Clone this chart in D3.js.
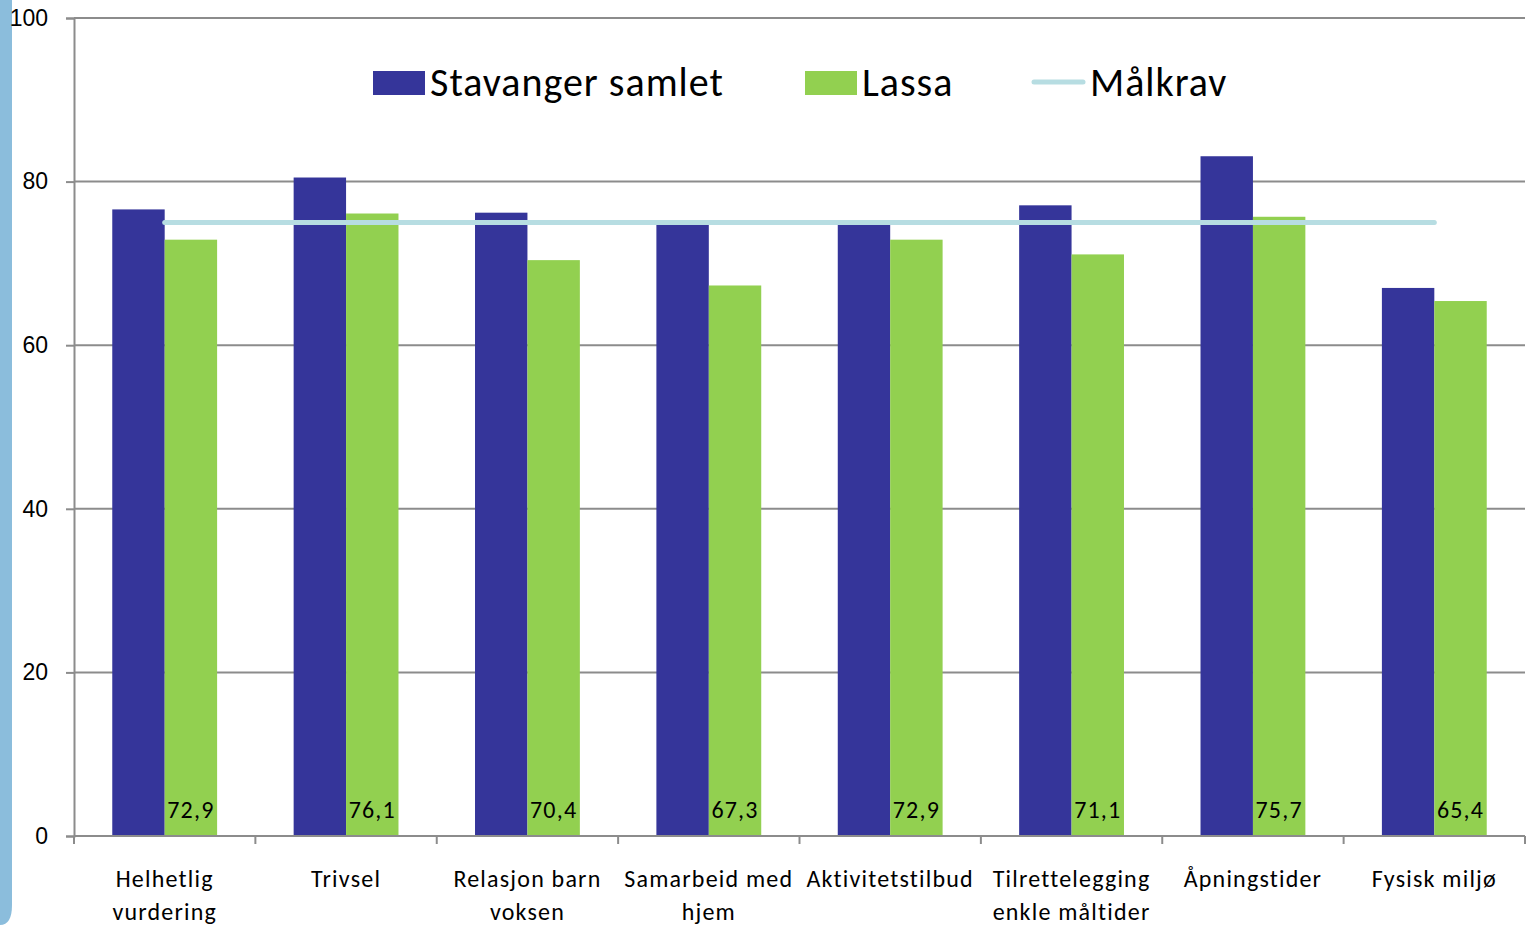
<!DOCTYPE html>
<html>
<head>
<meta charset="utf-8">
<script src="https://cdn.jsdelivr.net/npm/d3@7"></script>
<style>
  body { margin: 0; background: #fff; }
  svg { display: block; font-family: Carlito, Lato, "Open Sans", sans-serif; }
</style>
</head>
<body>
<svg id="chart" width="1529" height="925"></svg>
<script>
var categories = [
  ["Helhetlig", "vurdering"],
  ["Trivsel"],
  ["Relasjon barn", "voksen"],
  ["Samarbeid med", "hjem"],
  ["Aktivitetstilbud"],
  ["Tilrettelegging", "enkle måltider"],
  ["Åpningstider"],
  ["Fysisk miljø"]
]
var stavanger = [76.6, 80.5, 76.2, 74.7, 74.7, 77.1, 83.1, 67.0]
var lassa = [72.9, 76.1, 70.4, 67.3, 72.9, 71.1, 75.7, 65.4]
var maalkrav = [75, 75, 75, 75, 75, 75, 75, 75]
var yTicks = [0, 20, 40, 60, 80, 100]
var seriesNames = ["Stavanger samlet", "Lassa", "Målkrav"]

var colors = {
  blue: "#35359a",
  green: "#92d050",
  line: "#b7dde2",
  grid: "#8c8c8c"
}

var margin = { top: 18, bottom: 89, left: 74, right: 4 }
var width = 1529, height = 925

var svg = d3.select("#chart")

// slide decoration at the left edge
svg.append("path")
   .attr("d", "M0,0 H12 V905 Q12,925 0,925 Z")
   .attr("fill", "#8bbddc")

var idx = d3.range(categories.length)

var xScale = d3.scaleBand()
               .domain(idx)
               .range([margin.left, width - margin.right])

var inner = d3.scaleBand()
              .domain([0, 1])
              .range([0, xScale.bandwidth()])
              .paddingInner(0)
              .paddingOuter(0.73)

var yScale = d3.scaleLinear()
               .domain([0, 100])
               .range([height - margin.bottom, margin.top])

// gridlines + y axis
var yAxis = svg.append("g")
   .attr("transform", `translate(${margin.left},0)`)
   .call(d3.axisLeft(yScale).tickValues(yTicks).tickSize(8).tickPadding(18))
yAxis.select(".domain").attr("stroke", colors.grid).attr("stroke-width", 2)
yAxis.selectAll(".tick line").attr("stroke", colors.grid).attr("stroke-width", 2)
yAxis.selectAll(".tick text")
     .attr("font-size", 23).attr("fill", "#000").attr("font-family", null)

svg.append("g")
   .selectAll("line")
   .data(yTicks.filter(d => d > 0))
   .join("line")
   .attr("x1", margin.left)
   .attr("x2", width - margin.right)
   .attr("y1", d => yScale(d))
   .attr("y2", d => yScale(d))
   .attr("stroke", colors.grid)
   .attr("stroke-width", 2)

// bars
svg.append("g").selectAll("rect")
   .data(idx)
   .join("rect")
   .attr("x", i => xScale(i) + inner(0))
   .attr("y", i => yScale(stavanger[i]))
   .attr("width", inner.bandwidth())
   .attr("height", i => yScale(0) - yScale(stavanger[i]))
   .attr("fill", colors.blue)

svg.append("g").selectAll("rect")
   .data(idx)
   .join("rect")
   .attr("x", i => xScale(i) + inner(1))
   .attr("y", i => yScale(lassa[i]))
   .attr("width", inner.bandwidth())
   .attr("height", i => yScale(0) - yScale(lassa[i]))
   .attr("fill", colors.green)

// data labels
svg.append("g").selectAll("text")
   .data(idx)
   .join("text")
   .attr("x", i => xScale(i) + inner(1) + inner.bandwidth() / 2)
   .attr("y", yScale(0) - 18)
   .attr("text-anchor", "middle")
   .attr("font-size", 24)
   .attr("letter-spacing", 1.2)
   .text(i => String(lassa[i]).replace(".", ","))

// målkrav line
var lineGen = d3.line()
   .x((d, i) => xScale(i) + xScale.bandwidth() / 2)
   .y(d => yScale(d))

svg.append("path")
   .attr("d", lineGen(maalkrav))
   .attr("fill", "none")
   .attr("stroke", colors.line)
   .attr("stroke-width", 5)
   .attr("stroke-linecap", "round")

// x axis
var xAxis = svg.append("g")
   .attr("transform", `translate(0,${yScale(0)})`)
xAxis.append("line")
   .attr("x1", margin.left).attr("x2", width - margin.right)
   .attr("stroke", colors.grid).attr("stroke-width", 2)
xAxis.selectAll(".tk")
   .data(d3.range(categories.length + 1))
   .join("line")
   .attr("x1", i => i < categories.length ? xScale(i) : xScale.range()[1])
   .attr("x2", i => i < categories.length ? xScale(i) : xScale.range()[1])
   .attr("y1", 0).attr("y2", 8)
   .attr("stroke", colors.grid).attr("stroke-width", 2)

xAxis.selectAll(".lbl")
   .data(idx)
   .join("text")
   .attr("x", i => xScale(i) + xScale.bandwidth() / 2)
   .attr("y", 51)
   .attr("text-anchor", "middle")
   .attr("font-size", 24)
   .attr("letter-spacing", 1.2)
   .selectAll("tspan")
   .data(i => categories[i])
   .join("tspan")
   .attr("x", function() { return d3.select(this.parentNode).attr("x") })
   .attr("dy", (d, j) => j === 0 ? 0 : 33)
   .text(d => d)

// legend
var legend = svg.append("g")
legend.append("rect").attr("x", 373).attr("y", 71).attr("width", 52).attr("height", 24).attr("fill", colors.blue)
legend.append("rect").attr("x", 805).attr("y", 71).attr("width", 52).attr("height", 24).attr("fill", colors.green)
legend.append("line").attr("x1", 1034).attr("x2", 1083).attr("y1", 82).attr("y2", 82)
      .attr("stroke", colors.line).attr("stroke-width", 5).attr("stroke-linecap", "round")
legend.selectAll("text")
      .data(seriesNames)
      .join("text")
      .attr("x", (d, i) => [430, 862, 1090][i])
      .attr("y", 96)
      .attr("font-size", 40)
      .attr("letter-spacing", 1)
      .text(d => d)
</script>
</body>
</html>
